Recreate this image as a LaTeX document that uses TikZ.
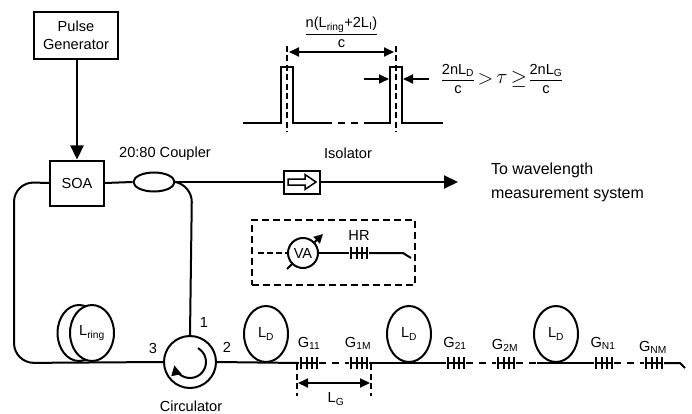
\documentclass[tikz,border=0pt]{standalone}
\usepackage{amsmath}
\usepackage{fontspec}
\setmainfont{Liberation Sans}
\usepackage{tikz}
\usetikzlibrary{arrows.meta, shapes.geometric}

\newcommand{\sublbl}[2]{#1\textsubscript{#2}}

\begin{document}
\begin{tikzpicture}[x=1pt, y=1pt, yscale=-1, line width=2pt,
    lbl/.style={font=\fontsize{14.6}{17}\selectfont, inner sep=0pt},
    bigtxt/.style={font=\fontsize{16}{24}\selectfont, inner sep=0pt, align=left, anchor=west},
    boxnode/.style={draw, align=center, inner sep=0pt, font=\fontsize{14.6}{18}\selectfont},
    coil/.style={draw, ellipse, fill=white, inner sep=0pt, minimum width=44pt, minimum height=56pt, font=\fontsize{14.6}{17}\selectfont},
    gapline/.style={dash pattern=on 7pt off 6pt},
    midline/.style={line width=2pt, dash pattern=on 6pt off 3.5pt},
    grating/.style={inner sep=0pt, minimum width=18pt, minimum height=12pt,
      path picture={
        \foreach \tick in {1,6.5,12,17}
          \draw[line width=2pt] ([xshift=\tick pt]path picture bounding box.north west) -- ([xshift=\tick pt]path picture bounding box.south west);
        \draw (path picture bounding box.west) -- (path picture bounding box.east);
      }},
    tip/.style={-{Triangle[length=14pt, width=13pt]}},
    bothtip/.style={{Triangle[length=10pt, width=9pt]}-{Triangle[length=10pt, width=9pt]}}]
  \useasboundingbox (0,0) rectangle (692,414);

  % source and ring
  \node[boxnode, minimum width=84pt, minimum height=47pt] (pulsegen) at (76,35.5) {Pulse\\Generator};
  \node[boxnode, minimum width=54pt, minimum height=45pt] (soa) at (77,183) {SOA};
  \node[draw, ellipse, inner sep=0pt, minimum width=41pt, minimum height=19pt] (coupler) at (154,182) {};
  \node[draw, circle, inner sep=0pt, minimum size=52pt] (circ) at (190,362) {};
  \coordinate (ringtl) at (14,182);
  \coordinate (ringbl) at (14,363);
  \coordinate (ringtr) at (192,184);
  \coordinate (outtip) at (458,182);
  \draw[tip, line width=2.2pt] (pulsegen.south -| soa.north) -- (soa.north);
  \draw (soa.east) -- (coupler.west);
  \draw[rounded corners=20pt] (soa.west) -- (ringtl) -- (ringbl) -- (circ.west);
  \draw[rounded corners=18pt] (coupler.east) -- (ringtr) -- (circ.north);
  \draw[tip] (coupler.east) -- (outtip);
  \draw[-{Triangle[length=10pt, width=10pt]}] (circ.center) ++(-60:16) arc (-60:168:16);
  \node[lbl] (portone) at (204,322) {1};
  \node[lbl] (porttwo) at (227,347) {2};
  \node[lbl] (portthree) at (153,348) {3};
  \node[lbl] (circlbl) at (191,406) {Circulator};
  \node[lbl] (couplbl) at (165,154) {20:80 Coupler};

  % isolator
  \node[draw, fill=white, inner sep=0pt, minimum width=36pt, minimum height=23pt] (isolator) at (302,182) {};
  \draw[line width=1.5pt] (288,179) -- (305,179) -- (305,174.5) -- (316,182) -- (305,189.5) -- (305,185) -- (288,185) -- cycle;
  \node[lbl] (isolbl) at (348,153) {Isolator};
  \node[bigtxt] (towave) at (490,182) {To wavelength\\measurement system};

  % coils
  \node[coil, minimum width=43pt] (ringback) at (79,333) {};
  \node[coil] (ringfront) at (92,333) {\sublbl{L}{ring}};
  \node[coil] (ldone) at (266,334) {\sublbl{L}{D}};
  \node[coil] (ldtwo) at (409,334) {\sublbl{L}{D}};
  \node[coil] (ldthree) at (556,334) {\sublbl{L}{D}};

  % gratings
  \node[grating] (gaa) at (309,363) {};
  \node[grating] (gam) at (359,363) {};
  \node[grating] (gba) at (456,363) {};
  \node[grating] (gbm) at (506,363) {};
  \node[grating] (gna) at (604,363) {};
  \node[grating] (gnm) at (654,363) {};
  \coordinate (fibreend) at (680,363);
  \coordinate (fibrecut) at (685,368);
  \coordinate (dashend) at (537,363);
  \draw (circ.east) -- (gaa.west);
  \draw[gapline] (gaa.east) -- (gam.west);
  \draw (gam.east) -- (gba.west);
  \draw[gapline] (gba.east) -- (gbm.west);
  \draw[gapline] (gbm.east) -- (dashend);
  \draw (dashend) -- (gna.west);
  \draw[gapline] (gna.east) -- (gnm.west);
  \draw (gnm.east) -- (fibreend) -- (fibrecut);
  \node[lbl] (gaalbl) at (309,343) {\sublbl{G}{11}};
  \node[lbl] (gamlbl) at (358,343) {\sublbl{G}{1M}};
  \node[lbl] (gbalbl) at (455,343) {\sublbl{G}{21}};
  \node[lbl] (gbmlbl) at (505,345) {\sublbl{G}{2M}};
  \node[lbl] (gnalbl) at (603,343) {\sublbl{G}{N1}};
  \node[lbl] (gnmlbl) at (653,347) {\sublbl{G}{NM}};

  % grating length
  \coordinate (lgleft) at (297,396);
  \coordinate (lgright) at (371,396);
  \coordinate (lgtopl) at (297,364);
  \coordinate (lgtopr) at (371,364);
  \draw[midline] (lgtopl) -- (lgleft);
  \draw[midline] (lgtopr) -- (lgright);
  \coordinate (lgarrl) at (298,383);
  \coordinate (lgarrr) at (370,383);
  \draw[bothtip] (lgarrl) -- (lgarrr);
  \node[lbl] (lglbl) at (336,399) {\sublbl{L}{G}};

  % reflector inset
  \node[draw, dash pattern=on 7pt off 4pt, inner sep=0pt, minimum width=163pt, minimum height=65pt] (inset) at (333,252.5) {};
  \coordinate (insetin) at (258,253);
  \coordinate (insetend) at (403,253);
  \coordinate (insetcut) at (411,258);
  \coordinate (vaa) at (287,269);
  \coordinate (vab) at (323,234);
  \draw[-{Triangle[length=9pt, width=9pt]}] (vaa) -- (vab);
  \node[draw, fill=white, circle, inner sep=0pt, minimum size=30pt, font=\fontsize{14.6}{17}\selectfont] (vatt) at (303,253) {VA};
  \node[grating] (ghr) at (359,253) {};
  \node[lbl] (hrlbl) at (359,235) {HR};
  \draw[dash pattern=on 6pt off 3pt] (insetin) -- (vatt.west);
  \draw (vatt.east) -- (ghr.west);
  \draw (ghr.east) -- (insetend) -- (insetcut);

  % pulse train
  \coordinate (basea) at (243,123);
  \coordinate (baseb) at (325,123);
  \coordinate (basec) at (364,123);
  \coordinate (based) at (443,123);
  \draw (basea) -- (281,123) -- (281,67) -- (293,67) -- (293,123) -- (baseb);
  \draw[dash pattern=on 7pt off 6pt] (baseb) -- (basec);
  \draw (basec) -- (390,123) -- (390,67) -- (402,67) -- (402,123) -- (based);
  \coordinate (marktopl) at (287,46);
  \coordinate (markbotl) at (287,132);
  \coordinate (marktopr) at (396,46);
  \coordinate (markbotr) at (396,132);
  \draw[midline] (marktopl) -- (markbotl);
  \draw[midline] (marktopr) -- (markbotr);
  \coordinate (spanl) at (289,52);
  \coordinate (spanr) at (394,52);
  \draw[bothtip] (spanl) -- (spanr);
  \coordinate (narrowl) at (364,79);
  \coordinate (narrowr) at (429,79);
  \draw[-{Triangle[length=10pt, width=9pt]}] (narrowl) -- (389,79);
  \draw[-{Triangle[length=10pt, width=9pt]}] (narrowr) -- (403,79);

  % formulas
  \node[lbl] (spanfrac) at (341.5,32.5) {$\dfrac{\mbox{n(\sublbl{L}{ring}+2\sublbl{L}{I})}}{\mbox{c}}$};
  \node[lbl] (widthfraca) at (458,79) {$\dfrac{\mbox{2n\sublbl{L}{D}}}{\mbox{c}}$};
  \node[lbl] (relgt) at (485.5,79) {\fontsize{20}{22}\selectfont $>$};
  \node[lbl] (reltau) at (502,79) {\fontsize{20}{22}\selectfont $\tau$};
  \node[lbl] (relge) at (519,79) {\fontsize{20}{22}\selectfont $\geq$};
  \node[lbl] (widthfracb) at (546,79) {$\dfrac{\mbox{2n\sublbl{L}{G}}}{\mbox{c}}$};
\end{tikzpicture}
\end{document}
